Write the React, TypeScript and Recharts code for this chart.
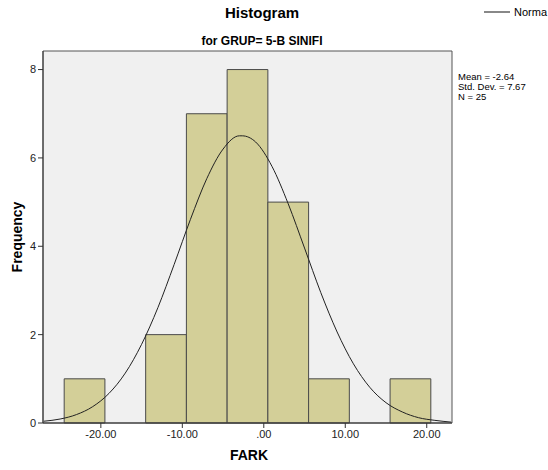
import { ComposedChart, Line, XAxis, YAxis, CartesianGrid, ReferenceArea } from "recharts";

// histogram bins (bin edges) and counts
const binStarts = [-24.5, -14.5, -9.5, -4.5, 0.5, 5.5, 15.5];
const binEnds = [-19.5, -9.5, -4.5, 0.5, 5.5, 10.5, 20.5];
const counts = [1, 2, 7, 8, 5, 1, 1];

// normal curve
const curveX = [-27, -25, -23, -21, -19, -17, -15, -13, -11, -9, -7, -5, -3, -2.64, -1, 1, 3, 5, 7, 9, 11, 13, 15, 17, 19, 21, 23];
const curveY = [0.04, 0.09, 0.19, 0.37, 0.67, 1.13, 1.78, 2.61, 3.59, 4.61, 5.53, 6.2, 6.5, 6.5, 6.36, 5.81, 4.96, 3.96, 2.95, 2.06, 1.34, 0.81, 0.46, 0.25, 0.12, 0.06, 0.02];

const xTicks = [-20, -10, 0, 10, 20];
const yTicks = [0, 2, 4, 6, 8];

const stats = ["Mean = -2.64", "Std. Dev. = 7.67", "N = 25"];

const curve = curveX.map((x, i) => ({ x, y: curveY[i] }));

const font = "Arial, 'Liberation Sans', sans-serif";
const tickStyle = { fontSize: 11, fill: "#222", fontFamily: font };

export default function App() {
  return (
    <div style={{ position: "fixed", left: 0, top: 0, width: 548, height: 470, background: "#fff", fontFamily: font, overflow: "hidden" }}>
      <div style={{ position: "absolute", left: 262, top: 4, transform: "translateX(-50%)", fontSize: 15, fontWeight: "bold", whiteSpace: "nowrap" }}>
        Histogram
      </div>
      <div style={{ position: "absolute", left: 262, top: 34, transform: "translateX(-50%)", fontSize: 12, fontWeight: "bold", whiteSpace: "nowrap" }}>
        for GRUP= 5-B SINIFI
      </div>
      <div style={{ position: "absolute", left: 484, top: 6, display: "flex", alignItems: "center", fontSize: 11, whiteSpace: "nowrap" }}>
        <svg width={26} height={10}><line x1={0} y1={5} x2={26} y2={5} stroke="#888" strokeWidth={2} /></svg>
        <span style={{ marginLeft: 4 }}>Norma</span>
      </div>
      <div style={{ position: "absolute", left: 458, top: 72, fontSize: 9.5, lineHeight: "10px", whiteSpace: "nowrap" }}>
        {stats.map((s) => (
          <div key={s}>{s}</div>
        ))}
      </div>
      <div style={{ position: "absolute", left: 17, top: 237, transform: "translate(-50%, -50%) rotate(-90deg)", fontSize: 14, fontWeight: "bold" }}>
        Frequency
      </div>
      <div style={{ position: "absolute", left: 249, top: 447, transform: "translateX(-50%)", fontSize: 14, fontWeight: "bold" }}>
        FARK
      </div>
      <ComposedChart width={548} height={470} data={curve} margin={{ top: 51, right: 96, bottom: 0, left: 0 }}>
        <CartesianGrid horizontal={false} vertical={false} fill="#f0f0f0" />
        <XAxis
          dataKey="x"
          type="number"
          domain={[-27.1, 23.1]}
          ticks={xTicks}
          allowDataOverflow
          height={47}
          tickSize={5}
          stroke="#333"
          tick={tickStyle}
          tickFormatter={(v) => (v === 0 ? ".00" : v.toFixed(2))}
        />
        <YAxis
          type="number"
          domain={[0, 8.42]}
          ticks={yTicks}
          allowDataOverflow
          width={43}
          tickSize={5}
          stroke="#333"
          tick={tickStyle}
        />
        {counts.map((c, i) => (
          <ReferenceArea
            key={i}
            x1={binStarts[i]}
            x2={binEnds[i]}
            y1={0}
            y2={c}
            fill="#d3cf98"
            fillOpacity={1}
            stroke="#4a4a4a"
            strokeWidth={1}
          />
        ))}
        <ReferenceArea x1={-27.1} x2={23.1} y1={0} y2={8.42} fill="none" stroke="#555" strokeWidth={1} />
        <Line dataKey="y" type="monotone" stroke="#222" strokeWidth={1} dot={false} isAnimationActive={false} />
      </ComposedChart>
    </div>
  );
}
